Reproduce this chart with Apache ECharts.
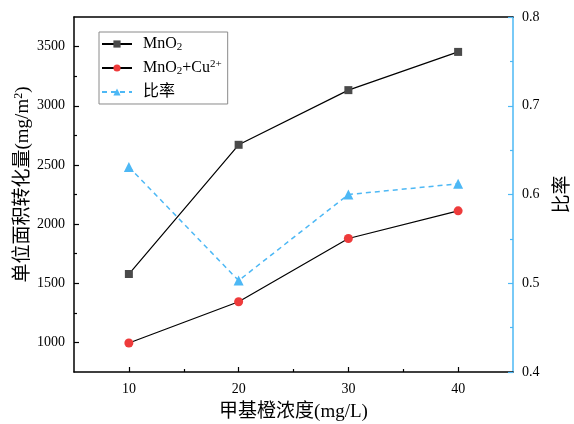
<!DOCTYPE html>
<html>
<head>
<meta charset="utf-8">
<script src="https://cdn.jsdelivr.net/npm/echarts@6/dist/echarts.min.js"></script>
<style>
html,body{margin:0;padding:0;background:#fff;}
#chart{width:574px;height:424px;}
</style>
</head>
<body>
<div id="chart"></div>
<script>
var concentrations = [10, 20, 30, 40];
var mno2 = [1578, 2670, 3132, 3455];
var mno2Cu = [995, 1344, 1878, 2112];
var ratio = [0.631, 0.503, 0.600, 0.612];
var xTickLabels = [10, 20, 30, 40];
var xMinorTicks = [15, 25, 35];
var yLeftLabels = [1000, 1500, 2000, 2500, 3000, 3500];
var yLeftMinor = [1250, 1750, 2250, 2750, 3250];
var seriesNames = ['MnO2', 'MnO2+Cu2+', '比率'];

var FONT = "'Liberation Serif', 'Noto Sans CJK SC', serif";
var BLUE = '#4db8f5';

function pairs(xs, ys) { return xs.map(function (x, i) { return [x, ys[i]]; }); }

var chart = echarts.init(document.getElementById('chart'), null, {renderer: 'canvas'});
var legendLabels = {
  'MnO2': '{t|MnO}{sub|2}',
  'MnO2+Cu2+': '{t|MnO}{sub|2}{t|+Cu}{sup|2+}',
  '比率': '{t|比率}'
};
chart.setOption({
  animation: false,
  backgroundColor: '#fff',
  textStyle: {fontFamily: FONT},
  grid: {left: 74, right: 61, top: 17, bottom: 52, containLabel: false, outerBoundsMode: 'none'},
  legend: {
    orient: 'vertical',
    left: 99, top: 32,
    padding: [4, 6, 4, 2],
    backgroundColor: '#fff',
    borderColor: '#8a8a8a',
    borderWidth: 1,
    itemWidth: 30, itemHeight: 9,
    itemGap: 6,
    data: seriesNames,
    formatter: function (n) { return legendLabels[n]; },
    textStyle: {
      fontFamily: FONT, fontSize: 16, color: '#000', padding: [0, 0, 0, 6],
      rich: {
        t: {fontFamily: FONT, fontSize: 16, color: '#000', lineHeight: 18},
        sub: {fontFamily: FONT, fontSize: 11, color: '#000', verticalAlign: 'bottom', lineHeight: 12, padding: [6, 0, 0, 0]},
        sup: {fontFamily: FONT, fontSize: 11, color: '#000', verticalAlign: 'top', lineHeight: 12, padding: [0, 0, 8, 0]}
      }
    }
  },
  xAxis: [
    {
      type: 'value', min: 5, max: 45, position: 'bottom',
      name: '甲基橙浓度(mg/L)', nameLocation: 'middle', nameGap: 31, nameMoveOverlap: false,
      nameTextStyle: {fontFamily: FONT, fontSize: 19, color: '#000'},
      axisLine: {show: true, onZero: false, lineStyle: {color: '#000', width: 1.5}},
      axisTick: {show: true, inside: true, length: 5, customValues: xTickLabels, lineStyle: {color: '#000', width: 1.2}},
      axisLabel: {show: true, customValues: xTickLabels, margin: 10, fontFamily: FONT, fontSize: 14, color: '#000',
        formatter: function (v) { return String(v); }},
      splitLine: {show: false}
    },
    {
      type: 'value', min: 5, max: 45, position: 'bottom',
      axisLine: {show: false},
      axisTick: {show: true, inside: true, length: 3, customValues: xMinorTicks, lineStyle: {color: '#000', width: 1.2}},
      axisLabel: {show: false},
      splitLine: {show: false}
    },
    {
      type: 'value', min: 5, max: 45, position: 'top',
      axisLine: {show: true, onZero: false, lineStyle: {color: '#000', width: 1.5}},
      axisTick: {show: false},
      axisLabel: {show: false},
      splitLine: {show: false}
    }
  ],
  yAxis: [
    {
      type: 'value', min: 750, max: 3750, position: 'left',
      name: '单位面积转化量(mg/m{sup|2})', nameLocation: 'middle', nameGap: 40, nameRotate: 90, nameMoveOverlap: false,
      nameTextStyle: {
        fontFamily: FONT, fontSize: 19, color: '#000', padding: [0, 0, 0, 20],
        rich: {sup: {fontFamily: FONT, fontSize: 12, color: '#000', verticalAlign: 'top', padding: [0, 0, 9, 0]}}
      },
      axisLine: {show: true, onZero: false, lineStyle: {color: '#000', width: 1.5}},
      axisTick: {show: true, inside: true, length: 5, customValues: yLeftLabels, lineStyle: {color: '#000', width: 1.2}},
      axisLabel: {show: true, customValues: yLeftLabels, margin: 9, fontFamily: FONT, fontSize: 14, color: '#000',
        formatter: function (v) { return String(v); }},
      splitLine: {show: false}
    },
    {
      type: 'value', min: 750, max: 3750, position: 'left',
      axisLine: {show: false},
      axisTick: {show: true, inside: true, length: 3, customValues: yLeftMinor, lineStyle: {color: '#000', width: 1.2}},
      axisLabel: {show: false},
      splitLine: {show: false}
    },
    {
      type: 'value', min: 0.4, max: 0.8, interval: 0.1, position: 'right',
      name: '比率', nameLocation: 'middle', nameGap: 41, nameRotate: 90, nameMoveOverlap: false,
      nameTextStyle: {fontFamily: FONT, fontSize: 19, color: '#000'},
      axisLine: {show: true, onZero: false, lineStyle: {color: BLUE, width: 1.5}},
      axisTick: {show: true, inside: true, length: 5, lineStyle: {color: BLUE, width: 1.2}},
      minorTick: {show: true, splitNumber: 2, length: 3, lineStyle: {color: BLUE, width: 1.2}},
      axisLabel: {show: true, margin: 9, fontFamily: FONT, fontSize: 14, color: '#000',
        formatter: function (v) { return v.toFixed(1); }},
      splitLine: {show: false}
    }
  ],
  series: [
    {
      name: seriesNames[0], type: 'line', xAxisIndex: 0, yAxisIndex: 0,
      data: pairs(concentrations, mno2),
      symbol: 'rect', symbolSize: 8,
      lineStyle: {color: '#000', width: 1.2},
      itemStyle: {color: '#4a4a4a', borderWidth: 0}
    },
    {
      name: seriesNames[1], type: 'line', xAxisIndex: 0, yAxisIndex: 0,
      data: pairs(concentrations, mno2Cu),
      symbol: 'circle', symbolSize: 9,
      lineStyle: {color: '#000', width: 1.2},
      itemStyle: {color: '#ee3b3b', borderWidth: 0}
    },
    {
      name: seriesNames[2], type: 'line', xAxisIndex: 0, yAxisIndex: 2,
      data: pairs(concentrations, ratio),
      symbol: 'triangle', symbolSize: 10,
      lineStyle: {color: BLUE, width: 1.5, type: [5, 4]},
      itemStyle: {color: BLUE, borderWidth: 0}
    }
  ]
});
</script>
</body>
</html>
